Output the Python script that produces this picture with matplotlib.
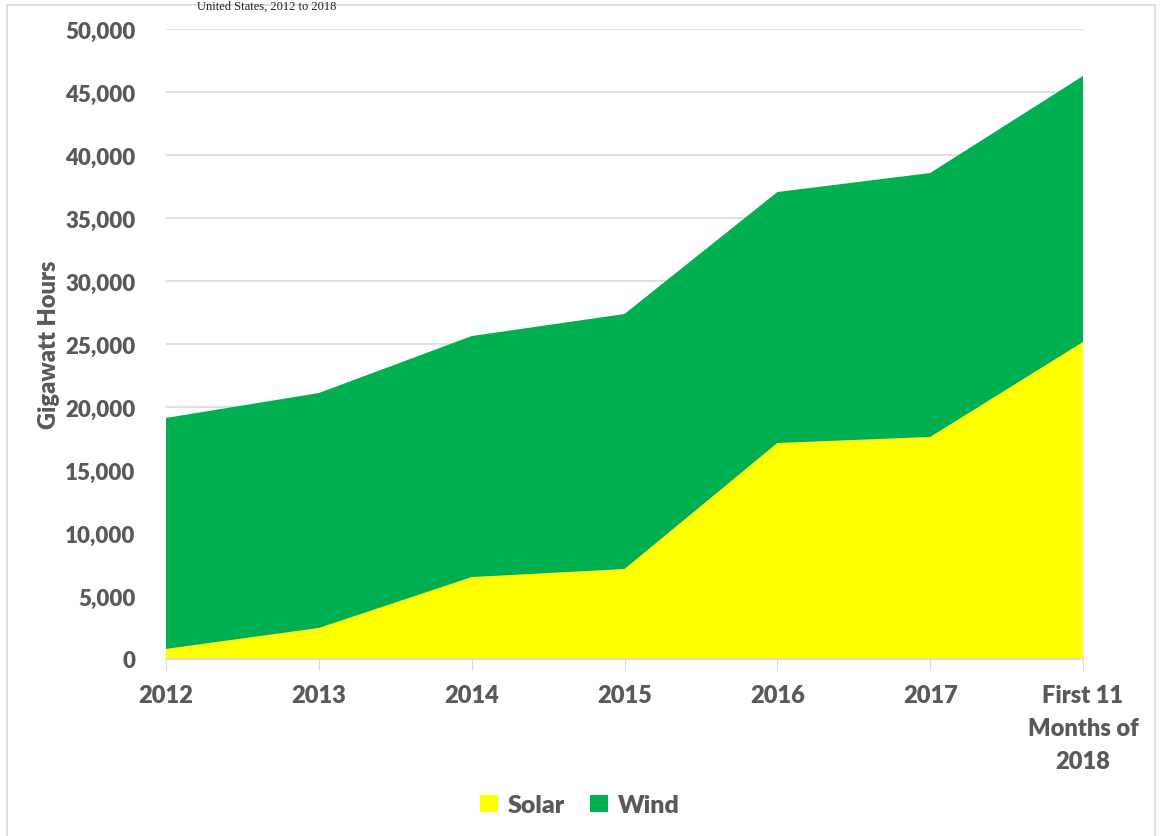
import numpy as np
import matplotlib.pyplot as plt
from matplotlib.patches import Rectangle

categories = ['2012', '2013', '2014', '2015', '2016', '2017', 'First 11\nMonths of\n2018']
solar = [800, 2460, 6500, 7140, 17140, 17620, 25160]
wind = [18330, 18650, 19130, 20240, 19920, 20950, 21110]
yticks = list(range(0, 50001, 5000))

text_col = '#595959'
plt.rcParams['font.family'] = ['Lato', 'DejaVu Sans']

fig = plt.figure(figsize=(11.6, 8.37), dpi=100)
ax = fig.add_axes([166 / 1160, 1 - 660 / 837, (1083 - 166) / 1160, 630 / 837])

x = np.arange(len(categories))
ax.stackplot(x, solar, wind, colors=['#ffff00', '#00b050'], labels=['Solar', 'Wind'], zorder=2)

ax.set_xlim(0, len(categories) - 1)
ax.set_ylim(0, 50000)
ax.set_yticks(yticks)
ax.set_yticklabels([f'{v:,}' for v in yticks], fontsize=16, fontweight='heavy', color=text_col)
ax.set_xticks(x)
ax.set_xticklabels(categories, fontsize=17, fontweight='heavy', color=text_col, linespacing=1.6)
ax.tick_params(axis='y', length=0, pad=22)
ax.tick_params(axis='x', length=8, color='#d9d9d9', pad=10)
ax.grid(axis='y', color='#d9d9d9', linewidth=1.2, zorder=0)
ax.set_axisbelow(True)
for s in ['top', 'right', 'left']:
    ax.spines[s].set_visible(False)
ax.spines['bottom'].set_color('#d9d9d9')
ax.spines['bottom'].set_linewidth(1.2)

ax.set_ylabel('Gigawatt Hours', fontsize=17, fontweight='heavy', color=text_col)
ax.yaxis.set_label_coords(-0.116, 0.5)

leg = fig.legend(loc='center', bbox_to_anchor=(0.5, 1 - 806 / 837), ncol=2, frameon=False,
                 fontsize=18, handlelength=0.7, handleheight=0.7, handletextpad=0.4, columnspacing=1.0)
for t in leg.get_texts():
    t.set_color(text_col)
    t.set_fontweight('heavy')

# chart area border and title line above it
fig.patches.append(Rectangle((7 / 1160, -0.01), 1148 / 1160, 1 - 6 / 837 + 0.01,
                             transform=fig.transFigure, fill=False, edgecolor='#d9d9d9', linewidth=1.2))
fig.text(0.17, 0.999, 'United States, 2012 to 2018', fontsize=9, family='Liberation Serif',
         va='top', ha='left', color='#222222')

fig.savefig('out.png', dpi=100)
